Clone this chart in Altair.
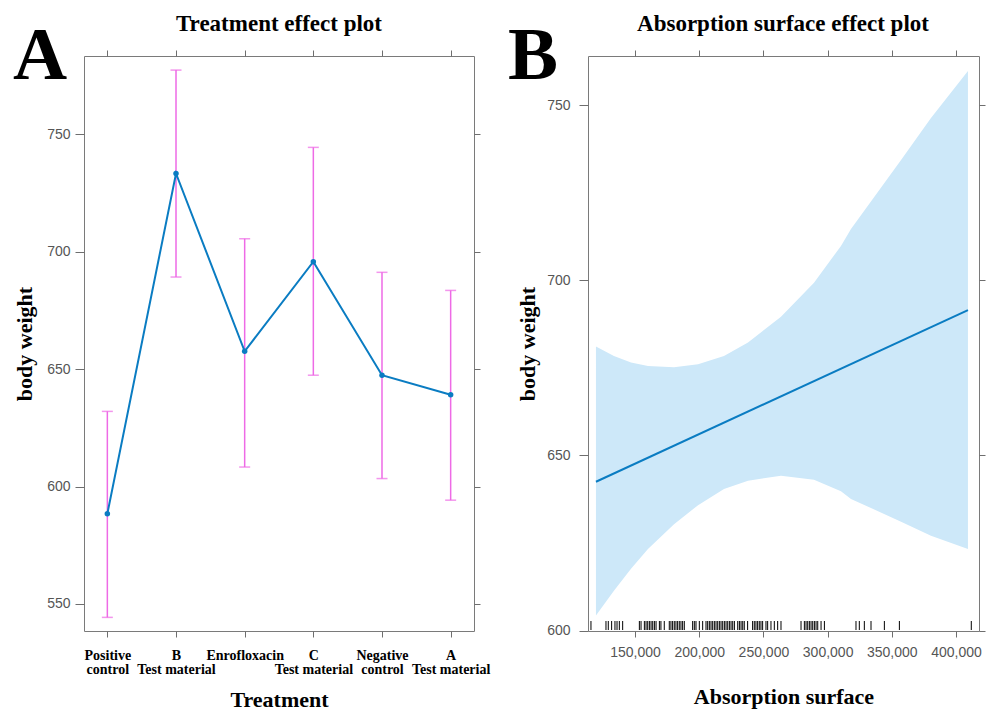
import altair as alt
import pandas as pd

# ---------------- Panel A data ----------------
treatments = ["Positive\ncontrol", "B\nTest material", "Enrofloxacin",
              "C\nTest material", "Negative\ncontrol", "A\nTest material"]
fit_a = [588.4, 733.3, 657.6, 695.7, 647.4, 639.1]
lower_a = [544.3, 689.2, 608.3, 647.4, 603.4, 594.2]
upper_a = [632.0, 777.3, 705.5, 744.4, 691.2, 683.5]

# ---------------- Panel B data ----------------
band_x = [119600, 133600, 146900, 160100, 180400, 199100, 219300, 238000,
          263700, 289400, 310400, 318200, 357200, 380500, 409300]
band_upper = [681.1, 678.4, 676.5, 675.5, 675.2, 676.0, 678.4, 682.2,
              689.6, 699.3, 709.8, 714.6, 734.3, 746.3, 759.7]
band_lower = [604.3, 611.4, 617.7, 623.3, 630.4, 635.8, 640.4, 642.8,
              644.2, 643.1, 639.8, 637.6, 631.1, 627.1, 623.3]
fit_line_x = [119600, 409300]
fit_line_y = [642.5, 691.5]
rug_x = [115700, 127400, 129200, 131800, 134400, 136000, 137800, 140400,
         153400, 154700, 157300, 158600, 159900, 161200, 162500, 163800,
         165100, 166400, 169000, 170200, 172800, 176700, 178000, 179300,
         180600, 181900, 183200, 184500, 185800, 187100, 188400, 194900,
         196200, 197500, 200100, 202700, 205300, 206600, 207900, 209200,
         210500, 211800, 213100, 214400, 215700, 217000, 218300, 219600,
         220900, 222200, 223500, 224800, 226100, 227400, 230000, 231300,
         232600, 233900, 235100, 237700, 241600, 242900, 244200, 245500,
         246800, 248100, 249400, 252000, 253300, 255900, 258500, 261100,
         263700, 279300, 281900, 283200, 284500, 285800, 287100, 288400,
         289700, 291000, 292300, 294900, 297500, 322100, 324700, 328600,
         333800, 344200, 355900, 411900]

y_ticks_a = [550, 600, 650, 700, 750]
y_ticks_b = [600, 650, 700, 750]
x_ticks_b = [150000, 200000, 250000, 300000, 350000, 400000]

title_a = "Treatment effect plot"
title_b = "Absorption surface effect plot"

SERIF = "Liberation Serif"
SANS = "Liberation Sans"
LINE_BLUE = "#0a7cc2"
PINK = "#ee6ae6"
TICK = "#6e6e6e"

df_a = pd.DataFrame({"treatment": treatments, "fit": fit_a,
                     "lower": lower_a, "upper": upper_a})
df_band = pd.DataFrame({"x": band_x, "upper": band_upper, "lower": band_lower})
df_fit = pd.DataFrame({"x": fit_line_x, "fit": fit_line_y})
df_rug = pd.DataFrame({"x": rug_x})


def text_layer(txt, x, y, size, align):
    return alt.Chart(alt.Data(values=[{"t": txt}])).mark_text(
        font=SERIF, fontWeight="bold", fontSize=size, align=align,
        baseline="alphabetic", color="black").encode(
        text="t:N", x=alt.value(x), y=alt.value(y))


# ---------------- Panel A ----------------
xscale_a = alt.Scale(type="point", padding=0.34)
yscale_a = alt.Scale(domain=[538.5, 783.3], nice=False, zero=False)

x_bottom_a = alt.X("treatment:N", sort=treatments, scale=xscale_a,
                   axis=alt.Axis(title="Treatment", labelAngle=0,
                                 labelExpr="split(datum.label, '\\n')",
                                 labelFont=SERIF, labelFontWeight="bold",
                                 labelFontSize=14, labelColor="black",
                                 labelLineHeight=14, labelPadding=11,
                                 labelOverlap=False, labelLimit=300,
                                 tickSize=6, tickColor=TICK, domain=False,
                                 titleFont=SERIF, titleFontWeight="bold",
                                 titleFontSize=22, titleColor="black",
                                 titleY=75, titleBaseline="alphabetic"))
y_left_a = alt.Y("lower:Q", scale=yscale_a,
                 axis=alt.Axis(title="body weight", values=y_ticks_a,
                               labelFont=SANS, labelFontSize=14,
                               labelColor="#555555", labelPadding=5,
                               tickSize=9, tickColor=TICK, domain=False,
                               titleFont=SERIF, titleFontWeight="bold",
                               titleFontSize=22, titleColor="black",
                               titleX=-48, titleY=287.5,
                               titleBaseline="bottom"))

err_a = alt.Chart(df_a).mark_rule(color=PINK, strokeWidth=1.5).encode(
    x=x_bottom_a, y=y_left_a, y2="upper:Q")

cap_lo = alt.Chart(df_a).mark_tick(color=PINK, size=11, thickness=1.5).encode(
    x=alt.X("treatment:N", sort=treatments, scale=xscale_a, axis=None),
    y=alt.Y("lower:Q", scale=yscale_a, axis=None))
cap_hi = alt.Chart(df_a).mark_tick(color=PINK, size=11, thickness=1.5).encode(
    x=alt.X("treatment:N", sort=treatments, scale=xscale_a, axis=None),
    y=alt.Y("upper:Q", scale=yscale_a, axis=None))

line_a = alt.Chart(df_a).mark_line(color=LINE_BLUE, strokeWidth=2).encode(
    x=alt.X("treatment:N", sort=treatments, scale=xscale_a, axis=None),
    y=alt.Y("fit:Q", scale=yscale_a, axis=None))

points_a = alt.Chart(df_a).mark_point(filled=True, color=LINE_BLUE, size=30,
                                      opacity=1).encode(
    x=alt.X("treatment:N", sort=treatments, scale=xscale_a,
            axis=alt.Axis(orient="top", labels=False, title=None, tickSize=6,
                          tickColor=TICK, domain=False)),
    y=alt.Y("fit:Q", scale=yscale_a,
            axis=alt.Axis(orient="right", labels=False, title=None,
                          values=y_ticks_a, tickSize=6, tickColor=TICK,
                          domain=False)))

left = alt.layer(err_a, cap_lo, cap_hi, line_a, points_a,
                 text_layer("A", -71, 23, 75, "left"),
                 text_layer(title_a, 195, -25, 23, "center")).resolve_axis(
    x="independent", y="independent").properties(width=390, height=575)

# ---------------- Panel B ----------------
xscale_b = alt.Scale(domain=[113400, 417900], nice=False, zero=False)
yscale_b = alt.Scale(domain=[599.9, 764], nice=False, zero=False)

band = alt.Chart(df_band).mark_area(color="#cde8f9", opacity=1).encode(
    x=alt.X("x:Q", scale=xscale_b,
            axis=alt.Axis(title="Absorption surface", values=x_ticks_b,
                          format=",d", labelFont=SANS, labelFontSize=14,
                          labelColor="#555555", labelPadding=8,
                          tickSize=6, tickColor=TICK, domain=False,
                          titleFont=SERIF, titleFontWeight="bold",
                          titleFontSize=22, titleColor="black",
                          titleY=72, titleBaseline="alphabetic")),
    y=alt.Y("lower:Q", scale=yscale_b,
            axis=alt.Axis(title="body weight", values=y_ticks_b,
                          labelFont=SANS, labelFontSize=14,
                          labelColor="#555555", labelPadding=9,
                          tickSize=9, tickColor=TICK, domain=False,
                          titleFont=SERIF, titleFontWeight="bold",
                          titleFontSize=22, titleColor="black",
                          titleX=-49, titleY=287.5, titleBaseline="bottom")),
    y2="upper:Q")

fit_b = alt.Chart(df_fit).mark_line(color=LINE_BLUE, strokeWidth=2).encode(
    x=alt.X("x:Q", scale=xscale_b,
            axis=alt.Axis(orient="top", labels=False, title=None,
                          values=x_ticks_b, tickSize=6, tickColor=TICK,
                          domain=False)),
    y=alt.Y("fit:Q", scale=yscale_b,
            axis=alt.Axis(orient="right", labels=False, title=None,
                          values=y_ticks_b, tickSize=6, tickColor=TICK,
                          domain=False)))

rug = alt.Chart(df_rug).mark_rule(color="black", strokeWidth=1).encode(
    x=alt.X("x:Q", scale=xscale_b, axis=None),
    y=alt.value(565), y2=alt.value(574))

right = alt.layer(band, fit_b, rug,
                  text_layer("B", -80, 23, 75, "left"),
                  text_layer(title_b, 195, -25, 23, "center")).resolve_axis(
    x="independent", y="independent").properties(width=391, height=575)

chart = alt.hconcat(left, right, spacing=114, bounds="flush").configure_view(
    stroke="#7a7a7a", strokeWidth=1).configure_axis(grid=False).properties(
    padding={"left": 12, "top": 12, "right": 0, "bottom": 0},
    background="white")

chart.save("out.html", embed_options={"renderer": "svg", "actions": False})
